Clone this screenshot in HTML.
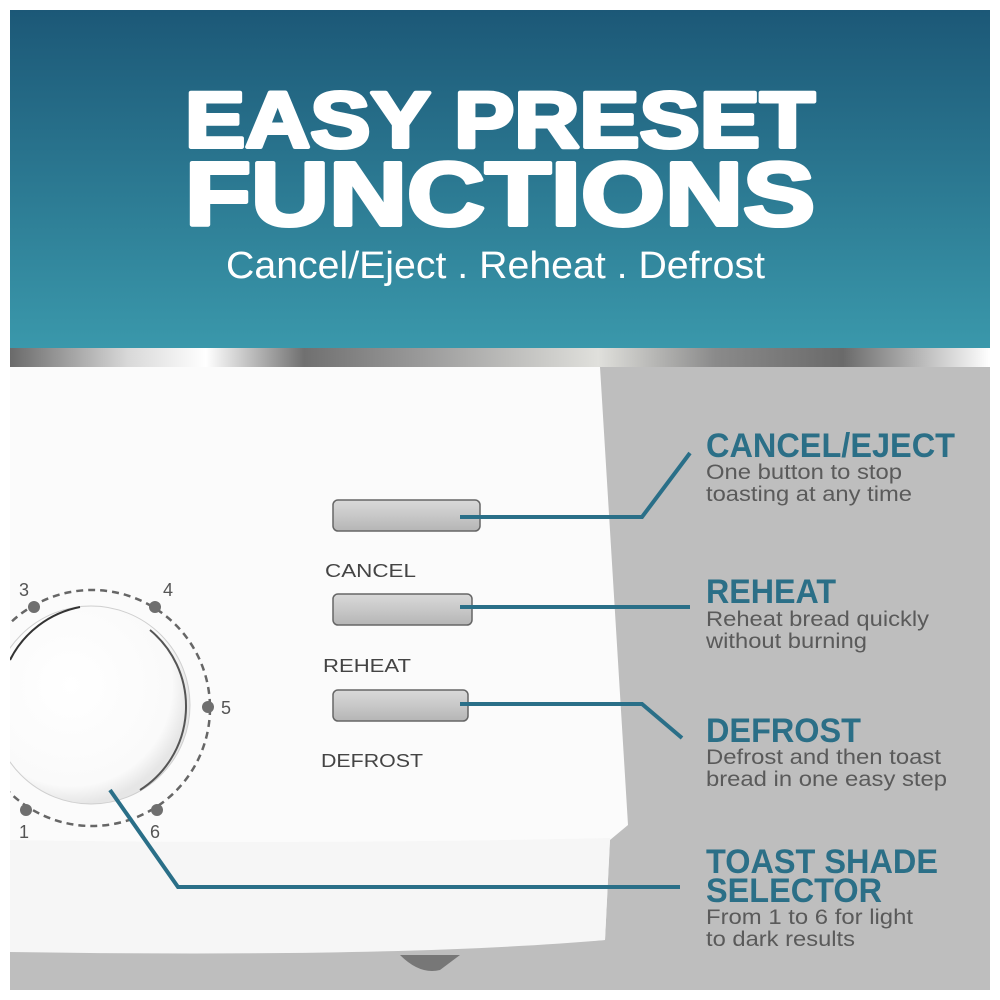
<!DOCTYPE html>
<html><head><meta charset="utf-8"><style>
html,body{margin:0;padding:0;background:#fff;width:1000px;height:1000px;overflow:hidden}
svg{display:block}
</style></head><body>
<svg width="1000" height="1000" viewBox="0 0 1000 1000" xmlns="http://www.w3.org/2000/svg">
<defs>
<linearGradient id="hdr" x1="0" y1="0" x2="0" y2="1">
<stop offset="0" stop-color="#1c5877"/><stop offset="1" stop-color="#3a98ab"/>
</linearGradient>
<linearGradient id="chrome" x1="0" y1="0" x2="1" y2="0">
<stop offset="0" stop-color="#6a6a6a"/><stop offset="0.12" stop-color="#d8d8d8"/><stop offset="0.2" stop-color="#ffffff"/><stop offset="0.3" stop-color="#707070"/><stop offset="0.42" stop-color="#9a9a9a"/><stop offset="0.6" stop-color="#e0e0dc"/><stop offset="0.72" stop-color="#8a8a8a"/><stop offset="0.85" stop-color="#6a6a6a"/><stop offset="1" stop-color="#ffffff"/>
</linearGradient>
<linearGradient id="btn" x1="0" y1="0" x2="0" y2="1">
<stop offset="0" stop-color="#d9d9d9"/><stop offset="0.5" stop-color="#c8c8c8"/><stop offset="1" stop-color="#b5b5b5"/>
</linearGradient>
<radialGradient id="knob" cx="0.4" cy="0.4" r="0.6">
<stop offset="0" stop-color="#ffffff"/><stop offset="0.85" stop-color="#fafafa"/><stop offset="1" stop-color="#e6e6e6"/>
</radialGradient>
<clipPath id="clip"><rect x="10" y="10" width="980" height="980"/></clipPath>
</defs>
<rect x="0" y="0" width="1000" height="1000" fill="#fff"/>
<g clip-path="url(#clip)">
<rect x="10" y="10" width="980" height="338" fill="url(#hdr)"/>
<rect x="10" y="348" width="980" height="19" fill="url(#chrome)"/>
<rect x="10" y="367" width="980" height="623" fill="#bebebe"/>
<path d="M10 367 L600 367 L628 825 L610 840 L605 940 Q400 955 10 945 Z" fill="#fbfbfb"/>
<path d="M10 840 Q300 845 610 838 L605 940 Q400 958 10 952 Z" fill="#f6f6f6"/>
<path d="M400 955 Q420 975 440 970 L460 955 Z" fill="#777"/>
<circle cx="92" cy="708" r="118" fill="none" stroke="#666" stroke-width="2.5" stroke-dasharray="7 5"/>
<circle cx="91" cy="705" r="99" fill="url(#knob)" stroke="#cfcfcf" stroke-width="1"/>
<path d="M150 630 A99 99 0 0 1 140 790" fill="none" stroke="#555" stroke-width="2"/>
<path d="M10 660 A99 99 0 0 1 80 607" fill="none" stroke="#333" stroke-width="2"/>
<g fill="#6f6f6f">
<circle cx="34" cy="607" r="6"/><circle cx="155" cy="607" r="6"/><circle cx="208" cy="707" r="6"/><circle cx="157" cy="810" r="6"/><circle cx="26" cy="810" r="6"/>
</g>
<g font-family="Liberation Sans, sans-serif" font-size="18" fill="#555">
<text x="19" y="596">3</text><text x="163" y="596">4</text><text x="221" y="714">5</text><text x="150" y="838">6</text><text x="19" y="838">1</text>
</g>
<rect x="333" y="500" width="147" height="31" rx="5" fill="url(#btn)" stroke="#666" stroke-width="1.5"/>
<rect x="333" y="594" width="139" height="31" rx="5" fill="url(#btn)" stroke="#666" stroke-width="1.5"/>
<rect x="333" y="690" width="135" height="31" rx="5" fill="url(#btn)" stroke="#666" stroke-width="1.5"/>
<g font-family="Liberation Sans, sans-serif" font-size="18" fill="#444">
<text x="325" y="577" textLength="91" lengthAdjust="spacingAndGlyphs">CANCEL</text>
<text x="323" y="672" textLength="88" lengthAdjust="spacingAndGlyphs">REHEAT</text>
<text x="321" y="767" textLength="102" lengthAdjust="spacingAndGlyphs">DEFROST</text>
</g>
<g fill="none" stroke="#2a6f88" stroke-width="4">
<polyline points="460,517 642,517 690,453"/>
<polyline points="460,607 690,607"/>
<polyline points="460,704 642,704 682,738"/>
<polyline points="110,790 178,887 680,887"/>
</g>
<g font-family="Liberation Sans, sans-serif" font-weight="bold" fill="#fff" stroke="#fff" stroke-width="4" stroke-linejoin="round">
<text x="185" y="147" font-size="79" textLength="630" lengthAdjust="spacingAndGlyphs">EASY PRESET</text>
<text x="185" y="225" font-size="90" textLength="630" lengthAdjust="spacingAndGlyphs">FUNCTIONS</text>
</g>
<text x="226" y="278" font-family="Liberation Sans, sans-serif" font-size="38" fill="#fff" textLength="539" lengthAdjust="spacingAndGlyphs">Cancel/Eject . Reheat . Defrost</text>
<g font-family="Liberation Sans, sans-serif" font-weight="bold" fill="#2b6f87" font-size="34">
<text x="706" y="457" textLength="249" lengthAdjust="spacingAndGlyphs">CANCEL/EJECT</text>
<text x="706" y="603" textLength="130" lengthAdjust="spacingAndGlyphs">REHEAT</text>
<text x="706" y="742" textLength="155" lengthAdjust="spacingAndGlyphs">DEFROST</text>
<text x="706" y="873" textLength="232" lengthAdjust="spacingAndGlyphs">TOAST SHADE</text>
<text x="706" y="902" textLength="176" lengthAdjust="spacingAndGlyphs">SELECTOR</text>
</g>
<g font-family="Liberation Sans, sans-serif" fill="#5a5a5a" font-size="21">
<text x="706" y="479" textLength="196" lengthAdjust="spacingAndGlyphs">One button to stop</text>
<text x="706" y="501" textLength="206" lengthAdjust="spacingAndGlyphs">toasting at any time</text>
<text x="706" y="626" textLength="223" lengthAdjust="spacingAndGlyphs">Reheat bread quickly</text>
<text x="706" y="648" textLength="161" lengthAdjust="spacingAndGlyphs">without burning</text>
<text x="706" y="764" textLength="235" lengthAdjust="spacingAndGlyphs">Defrost and then toast</text>
<text x="706" y="786" textLength="241" lengthAdjust="spacingAndGlyphs">bread in one easy step</text>
<text x="706" y="924" textLength="207" lengthAdjust="spacingAndGlyphs">From 1 to 6 for light</text>
<text x="706" y="946" textLength="149" lengthAdjust="spacingAndGlyphs">to dark results</text>
</g>
</g>
</svg>
</body></html>
